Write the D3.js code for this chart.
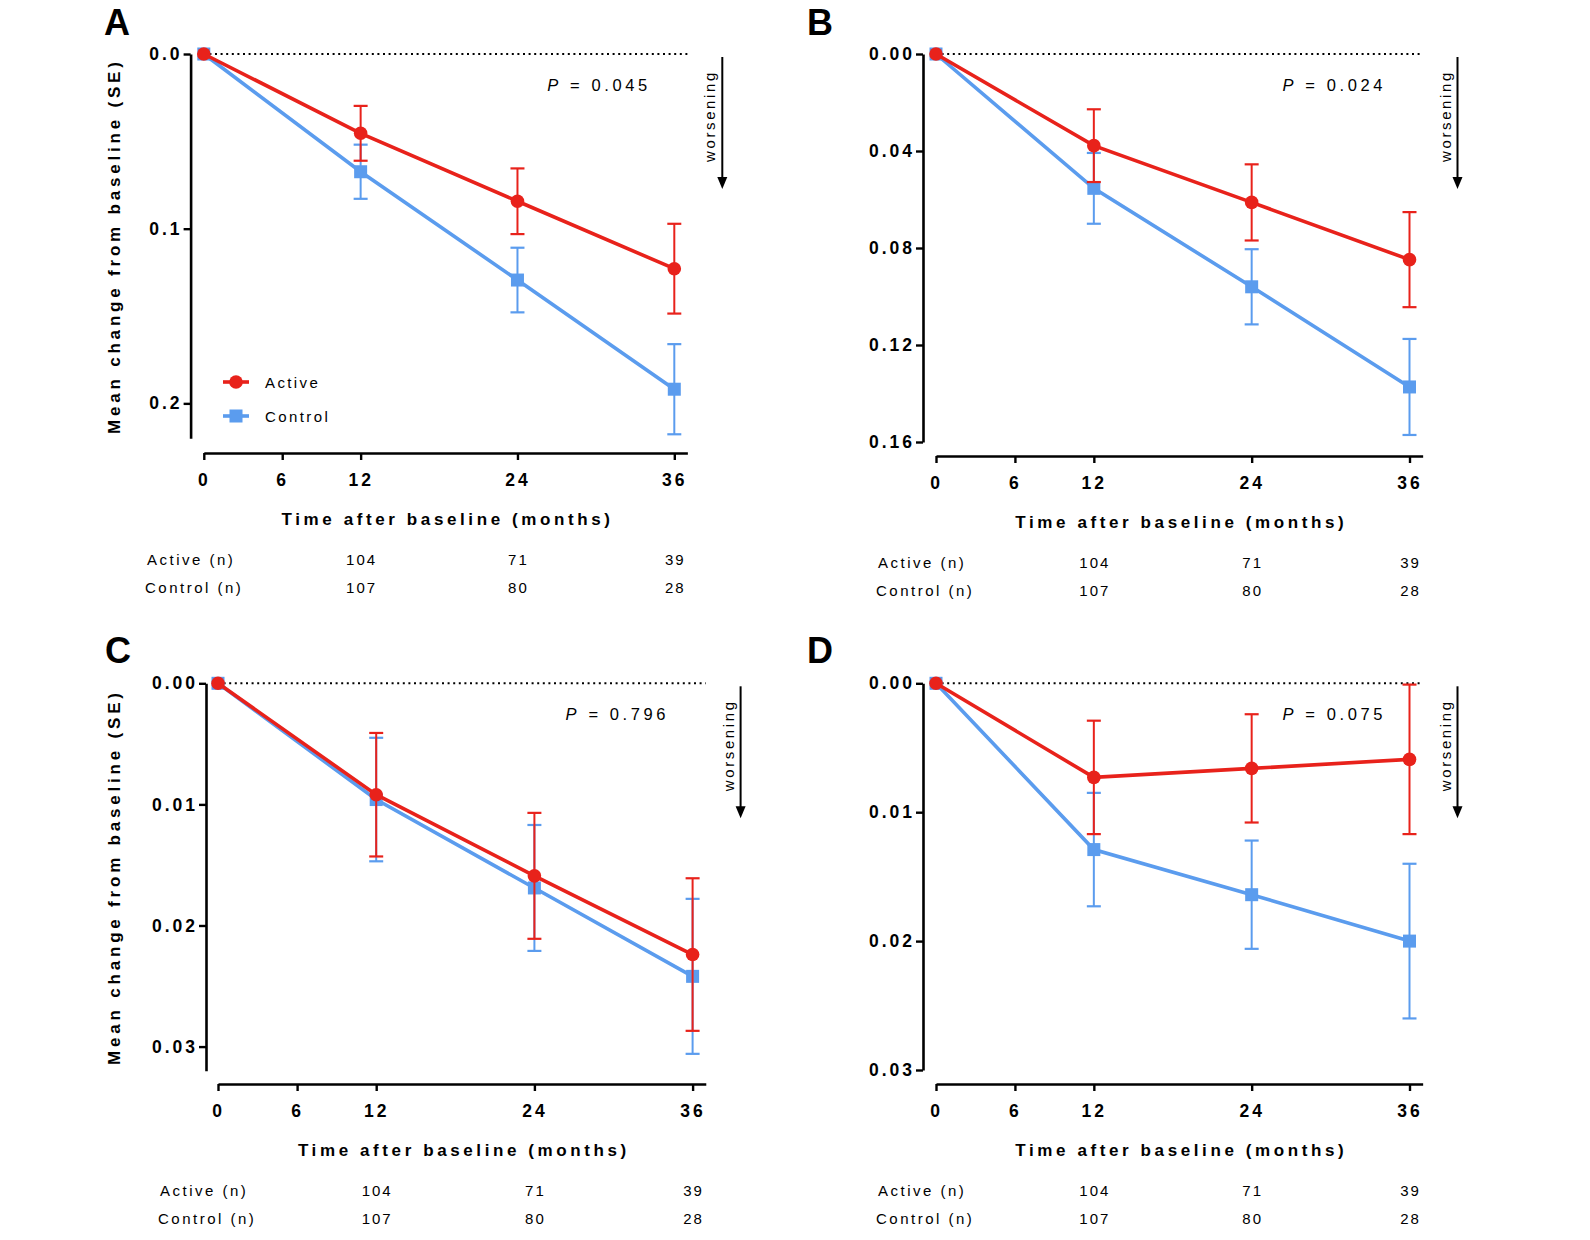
<!DOCTYPE html>
<html>
<head>
<meta charset="utf-8">
<script src="https://cdn.jsdelivr.net/npm/d3@7"></script>
<style>
  body { margin: 0; background: #fff; }
  svg { display: block; }
  text { font-family: "Liberation Sans", Arial, Helvetica, sans-serif; fill: #000; }
</style>
</head>
<body>
<svg id="chart" width="1590" height="1240"></svg>
<script>
// time points and table rows
const months = [0, 12, 24, 36];
const xTicks = [0, 6, 12, 24, 36];
const nMonths = [12, 24, 36];
const activeN = [104, 71, 39];
const controlN = [107, 80, 28];

// panel A
const aActiveMean = [0, 0.0454, 0.0843, 0.1229];
const aActiveSE = [0, 0.0157, 0.0188, 0.0257];
const aControlMean = [0, 0.0674, 0.1294, 0.1919];
const aControlSE = [0, 0.0155, 0.0185, 0.0258];
const yTicksA = [0, 0.1, 0.2];

// panel B
const bActiveMean = [0, 0.0378, 0.0612, 0.0848];
const bActiveSE = [0, 0.0150, 0.0157, 0.0196];
const bControlMean = [0, 0.0554, 0.0960, 0.1373];
const bControlSE = [0, 0.0146, 0.0155, 0.0198];
const yTicksB = [0, 0.04, 0.08, 0.12, 0.16];

// panel C
const cActiveMean = [0, 0.0092, 0.0159, 0.0224];
const cActiveSE = [0, 0.0051, 0.0052, 0.0063];
const cControlMean = [0, 0.0096, 0.0169, 0.0242];
const cControlSE = [0, 0.0051, 0.0052, 0.0064];
const yTicksC = [0, 0.01, 0.02, 0.03];

// panel D
const dActiveMean = [0, 0.0073, 0.0066, 0.0059];
const dActiveSE = [0, 0.0044, 0.0042, 0.0058];
const dControlMean = [0, 0.0129, 0.0164, 0.0200];
const dControlSE = [0, 0.0044, 0.0042, 0.0060];
const yTicksD = [0, 0.01, 0.02, 0.03];

const panelLabels = ['A', 'B', 'C', 'D'];
const pValues = ['0.045', '0.024', '0.796', '0.075'];
const seriesNames = ['Active', 'Control'];

const RED = '#e8221b';
const BLUE = '#5b9cee';

const panels = [
    { label: panelLabels[0], lx: 104, ly: 35, yAxisX: 190.6, yTop: 54, yBottom: 438.3, yMax: 0.22, ticks: yTicksA, fmt: '.1f',
      xAxisY: 453, x0: 203.8, x36: 674.3, tableX: 147, yTitle: true, legend: true, p: pValues[0],
      active: [aActiveMean, aActiveSE], control: [aControlMean, aControlSE] },
    { label: panelLabels[1], lx: 807, ly: 35, yAxisX: 923, yTop: 54, yBottom: 442, yMax: 0.16, ticks: yTicksB, fmt: '.2f',
      xAxisY: 456, x0: 936, x36: 1409.5, tableX: 878, yTitle: false, legend: false, p: pValues[1],
      active: [bActiveMean, bActiveSE], control: [bControlMean, bControlSE] },
    { label: panelLabels[2], lx: 105, ly: 663, yAxisX: 206, yTop: 683.3, yBottom: 1070.8, yMax: 0.032, ticks: yTicksC, fmt: '.2f',
      xAxisY: 1084, x0: 218, x36: 692.6, tableX: 160, yTitle: true, legend: false, p: pValues[2],
      active: [cActiveMean, cActiveSE], control: [cControlMean, cControlSE] },
    { label: panelLabels[3], lx: 807, ly: 663, yAxisX: 923, yTop: 683.3, yBottom: 1070, yMax: 0.03, ticks: yTicksD, fmt: '.2f',
      xAxisY: 1084, x0: 936, x36: 1409.5, tableX: 878, yTitle: false, legend: false, p: pValues[3],
      active: [dActiveMean, dActiveSE], control: [dControlMean, dControlSE] }
];

const svg = d3.select('#chart');

function drawSeries(g, x, y, mean, se, color, shape) {
    const pts = months.map((m, i) => ({ m: m, v: mean[i], se: se[i] }));
    const bars = pts.filter(d => d.se > 0);

    g.selectAll(null).data(bars).enter().append('line')
        .attr('x1', d => x(d.m)).attr('x2', d => x(d.m))
        .attr('y1', d => y(d.v - d.se)).attr('y2', d => y(d.v + d.se))
        .attr('stroke', color).attr('stroke-width', 2);
    [-1, 1].forEach(s => {
        g.selectAll(null).data(bars).enter().append('line')
            .attr('x1', d => x(d.m) - 7).attr('x2', d => x(d.m) + 7)
            .attr('y1', d => y(d.v + s * d.se)).attr('y2', d => y(d.v + s * d.se))
            .attr('stroke', color).attr('stroke-width', 2.2);
    });

    g.append('path')
        .datum(pts)
        .attr('fill', 'none')
        .attr('stroke', color)
        .attr('stroke-width', 3.6)
        .attr('d', d3.line().x(d => x(d.m)).y(d => y(d.v)));

    if (shape === 'circle') {
        g.selectAll(null).data(pts).enter().append('circle')
            .attr('cx', d => x(d.m)).attr('cy', d => y(d.v)).attr('r', 6.8)
            .attr('fill', color);
    } else {
        g.selectAll(null).data(pts).enter().append('rect')
            .attr('x', d => x(d.m) - 6.5).attr('y', d => y(d.v) - 6.5)
            .attr('width', 13).attr('height', 13)
            .attr('fill', color);
    }
}

panels.forEach(p => {
    const x = d3.scaleLinear().domain([0, 36]).range([p.x0, p.x36]);
    const y = d3.scaleLinear().domain([0, p.yMax]).range([p.yTop, p.yBottom]);
    const g = svg.append('g');

    g.append('text')
        .attr('x', p.lx).attr('y', p.ly)
        .style('font-size', '36px').style('font-weight', 'bold')
        .text(p.label);

    // y axis
    const yAxis = g.append('g')
        .attr('transform', 'translate(' + p.yAxisX + ',0)')
        .call(d3.axisLeft(y).tickValues(p.ticks).tickFormat(d3.format(p.fmt))
            .tickSize(7).tickSizeOuter(0).tickPadding(1));
    // x axis
    const xAxis = g.append('g')
        .attr('transform', 'translate(0,' + p.xAxisY + ')')
        .call(d3.axisBottom(x.copy().domain([0, 37]).range([p.x0, x(37)]))
            .tickValues(xTicks).tickFormat(d3.format('d'))
            .tickSize(7).tickSizeOuter(0).tickPadding(14));

    [yAxis, xAxis].forEach(a => {
        a.select('.domain').attr('stroke', '#000').attr('stroke-width', 2.6);
        a.selectAll('.tick line').attr('stroke', '#000').attr('stroke-width', 2.4);
        a.selectAll('.tick text')
            .style('font-family', '"Liberation Sans", Arial, sans-serif')
            .style('font-size', '17.5px').style('font-weight', 'bold')
            .style('letter-spacing', '3px').attr('fill', '#000');
    });

    // zero reference line
    g.append('line')
        .attr('x1', x(0)).attr('x2', x(37))
        .attr('y1', y(0)).attr('y2', y(0))
        .attr('stroke', '#000').attr('stroke-width', 2)
        .attr('stroke-dasharray', '2,3.6');

    drawSeries(g, x, y, p.control[0], p.control[1], BLUE, 'square');
    drawSeries(g, x, y, p.active[0], p.active[1], RED, 'circle');

    // P value
    const pt = g.append('text')
        .attr('x', x(36) - 127).attr('y', p.yTop + 37)
        .style('font-size', '16.5px').style('letter-spacing', '3.6px');
    pt.append('tspan').style('font-style', 'italic').text('P');
    pt.append('tspan').text(' = ' + p.p);

    // worsening arrow
    const ax = x(36) + 48;
    g.append('text')
        .attr('transform', 'translate(' + (x(36) + 41) + ',' + (p.yTop + 62) + ') rotate(-90)')
        .attr('text-anchor', 'middle')
        .style('font-size', '15px').style('letter-spacing', '2.6px')
        .text('worsening');
    g.append('line')
        .attr('x1', ax).attr('x2', ax)
        .attr('y1', p.yTop + 3).attr('y2', p.yTop + 126)
        .attr('stroke', '#000').attr('stroke-width', 2);
    g.append('path')
        .attr('d', 'M' + (ax - 5) + ',' + (p.yTop + 123) + ' L' + (ax + 5) + ',' + (p.yTop + 123) +
            ' L' + ax + ',' + (p.yTop + 135) + ' Z')
        .attr('fill', '#000');

    if (p.yTitle) {
        g.append('text')
            .attr('transform', 'translate(120,' + ((p.yTop + p.yBottom) / 2) + ') rotate(-90)')
            .attr('text-anchor', 'middle')
            .style('font-size', '17px').style('font-weight', 'bold').style('letter-spacing', '3.8px')
            .text('Mean change from baseline (SE)');
    }

    g.append('text')
        .attr('x', (p.x0 + x(37)) / 2 + 2).attr('y', p.xAxisY + 72)
        .attr('text-anchor', 'middle')
        .style('font-size', '17px').style('font-weight', 'bold').style('letter-spacing', '3.6px')
        .text('Time after baseline (months)');

    // numbers at risk
    const rows = [[seriesNames[0] + ' (n)', activeN, 0], [seriesNames[1] + ' (n)', controlN, 1]];
    rows.forEach(r => {
        const ty = p.xAxisY + 112 + r[2] * 27.5;
        g.append('text')
            .attr('x', p.tableX - r[2] * 2).attr('y', ty)
            .style('font-size', '15px').style('letter-spacing', '2.5px')
            .text(r[0]);
        g.selectAll(null).data(r[1]).enter().append('text')
            .attr('x', (d, i) => x(nMonths[i]) + 1).attr('y', ty)
            .attr('text-anchor', 'middle')
            .style('font-size', '15px').style('letter-spacing', '2px')
            .text(d => d);
    });

    if (p.legend) {
        const leg = g.append('g').attr('transform', 'translate(223,382)');
        [[RED, 'circle'], [BLUE, 'square']].forEach((s, i) => {
            const ly = i * 34;
            leg.append('line').attr('x1', 0).attr('x2', 26).attr('y1', ly).attr('y2', ly)
                .attr('stroke', s[0]).attr('stroke-width', 3.6);
            if (s[1] === 'circle') {
                leg.append('circle').attr('cx', 13).attr('cy', ly).attr('r', 6.8).attr('fill', s[0]);
            } else {
                leg.append('rect').attr('x', 6.5).attr('y', ly - 6.5).attr('width', 13).attr('height', 13).attr('fill', s[0]);
            }
            leg.append('text').attr('x', 42).attr('y', ly + 6)
                .style('font-size', '15px').style('letter-spacing', '2.4px')
                .text(seriesNames[i]);
        });
    }
});
</script>
</body>
</html>
